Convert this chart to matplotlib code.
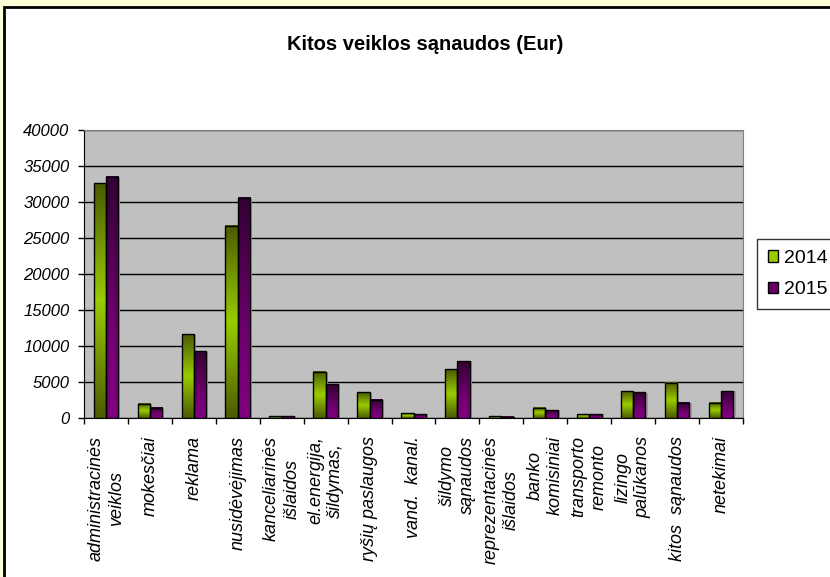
#!/usr/bin/env python3
# -*- coding: utf-8 -*-

"""Kitos veiklos sąnaudos (Eur) - grouped bar chart, 2014 vs 2015."""

import matplotlib
matplotlib.use("Agg")
import matplotlib.pyplot as plt
import numpy as np
from matplotlib.colors import LinearSegmentedColormap
from matplotlib.patches import Rectangle

plt.rcParams['font.family'] = ['Liberation Sans', 'DejaVu Sans']

TITLE = "Kitos veiklos sąnaudos (Eur)"
CATEGORIES = [
    "administracinės\nveiklos", "mokesčiai", "reklama", "nusidėvėjimas",
    "kanceliarinės\nišlaidos", "el.energija,\nšildymas,", "ryšių paslaugos",
    "vand.  kanal.", "šildymo\nsąnaudos", "reprezentacinės\nišlaidos",
    "banko\nkomisiniai", "transporto\nremonto", "lizingo\npalūkanos",
    "kitos  sąnaudos", "netekimai",
]
YEARS = ["2014", "2015"]
VALUES_2014 = [32600, 2000, 11600, 26700, 250, 6450, 3550, 650, 6750, 250,
               1400, 500, 3700, 4900, 2150]
VALUES_2015 = [33500, 1450, 9250, 30600, 250, 4700, 2550, 500, 7900, 200,
               1050, 550, 3550, 2150, 3700]
Y_TICKS = [0, 5000, 10000, 15000, 20000, 25000, 30000, 35000, 40000]

GREEN_CMAP = LinearSegmentedColormap.from_list(
    "green", [(0, "#4b5a00"), (0.5, "#99cc00"), (1, "#4b5a00")])
PURPLE_CMAP = LinearSegmentedColormap.from_list(
    "purple", [(0, "#800080"), (0.35, "#700070"), (1, "#330033")])


def gradient_bars(ax, xs, heights, width, cmap):
    """Draw bars with a vertical gradient fill and black edges."""
    grad = np.linspace(0, 1, 256).reshape(-1, 1)
    bars = ax.bar(xs, heights, width, align="edge", facecolor="none",
                  edgecolor="black", linewidth=1, zorder=4)
    for bar in bars:
        x0, w, h = bar.get_x(), bar.get_width(), bar.get_height()
        ax.add_patch(Rectangle((x0 + 0.05, 0), w, h * 0.995,
                               facecolor="#9a9a9a", edgecolor="none",
                               zorder=2))
        ax.imshow(grad, extent=(x0, x0 + w, 0, h), origin="lower",
                  aspect="auto", cmap=cmap, zorder=3, interpolation="bilinear")


def main():
    """Main function."""
    fig = plt.figure(figsize=(8.3, 5.77), dpi=100, facecolor="#ffffd8")
    fig.patches.append(Rectangle((4 / 830, -0.05), 1.1, (577 - 7) / 577 + 0.05,
                                 transform=fig.transFigure, facecolor="white",
                                 edgecolor="black", linewidth=2, zorder=-1))
    ax = fig.add_axes([84 / 830, 159 / 577, 659 / 830, 288 / 577])
    ax.set_facecolor("#c0c0c0")

    x = np.arange(len(CATEGORIES))
    width = 0.28
    gradient_bars(ax, x - width, VALUES_2014, width, GREEN_CMAP)
    gradient_bars(ax, x, VALUES_2015, width, PURPLE_CMAP)

    ax.set_xlim(-0.5, len(CATEGORIES) - 0.5)
    ax.set_ylim(0, 40000)
    ax.set_yticks(Y_TICKS)
    ax.set_yticklabels([str(v) for v in Y_TICKS], fontsize=12, style="italic")
    ax.yaxis.grid(True, color="black", linewidth=1, zorder=1)
    ax.set_axisbelow(True)

    ax.set_xticks(np.arange(-0.5, len(CATEGORIES), 1))
    ax.set_xticklabels([])
    ax.set_xticks(x, minor=True)
    ax.set_xticklabels(CATEGORIES, minor=True, rotation=90, fontsize=13,
                       style="italic", va="top", ha="center",
                       multialignment="center", linespacing=1.25)
    ax.tick_params(axis="x", which="minor", length=0, pad=13)
    ax.tick_params(axis="both", which="major", direction="out", length=4.5,
                   width=1, color="black")
    ax.tick_params(axis="y", pad=6)

    for side in ("top", "right"):
        ax.spines[side].set_color("#808080")
    for side in ("left", "bottom"):
        ax.spines[side].set_color("black")

    fig.text(425 / 830, 1 - 44 / 577, TITLE, ha="center", va="center",
             fontsize=14.5, fontweight="bold")

    handles = [Rectangle((0, 0), 1, 1, facecolor="#99cc00", edgecolor="black"),
               Rectangle((0, 0), 1, 1, facecolor="#660066", edgecolor="black")]
    leg = fig.legend(handles, YEARS, loc="upper left",
                     bbox_to_anchor=(757 / 830, 1 - 239 / 577),
                     fontsize=14, frameon=True, fancybox=False,
                     handlelength=0.55, handleheight=0.55, handletextpad=0.3,
                     borderpad=0.55, labelspacing=0.75, borderaxespad=0)
    leg.get_frame().set_edgecolor("black")
    leg.get_frame().set_linewidth(1)

    fig.savefig("out.png", dpi=100, facecolor=fig.get_facecolor())


if __name__ == "__main__":
    main()
